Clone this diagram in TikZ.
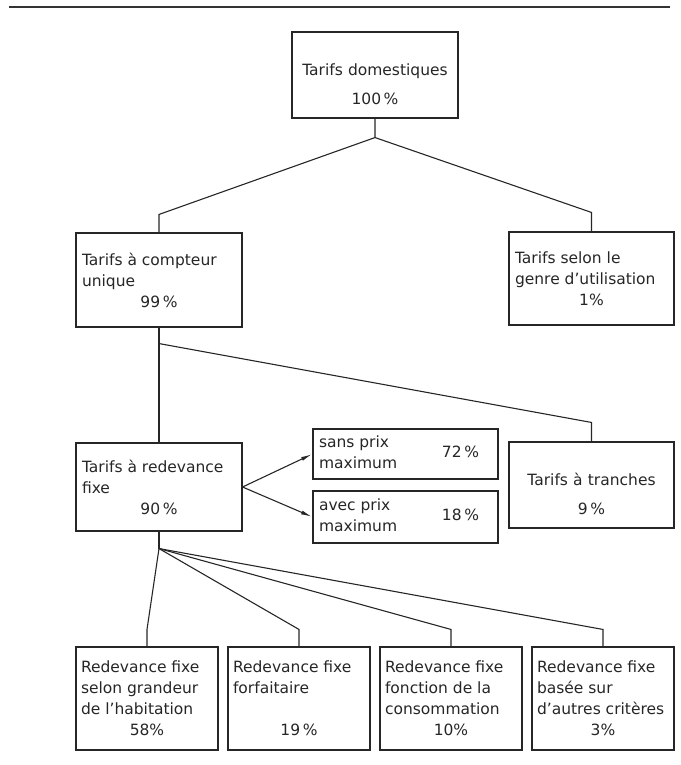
\documentclass[tikz,border=0pt]{standalone}
\usepackage{fontspec}
\setmainfont{DejaVu Sans}
\usepackage{tikz}
\usetikzlibrary{arrows.meta}

\newcommand{\pcline}[1]{\makebox[\hsize]{#1}}
\newcommand{\lowtop}{\rule{0pt}{30pt}}

\begin{document}
\begin{tikzpicture}[
    x=1pt,y=-1pt,>={Latex[length=11pt,width=4pt]},
    every node/.style={text=black!85},
    card/.style={draw=black!85,line width=1.1pt,inner xsep=6pt,inner ysep=3pt,
      align=flush left,font=\fontsize{15.5}{21}\selectfont},
    tie/.style={draw=black!85,line width=1.1pt},
    push/.style={->,draw=black!85,line width=1.1pt,shorten >=0.5pt}
]
\useasboundingbox (0,0) rectangle (680,765);
\draw[black!80,line width=2pt] (9,7) -- (670,7);

\node[card,align=center,text width=154pt,minimum height=86pt] (total)
  at (375,75) {\lowtop Tarifs~domestiques\\[8pt]100\,\%};
\node[card,text width=154pt,minimum height=94pt] (single)
  at (159,280) {Tarifs~à~compteur\\unique\\\pcline{99\,\%}};
\node[card,text width=153pt,minimum height=93pt] (usage)
  at (591.5,278.5) {Tarifs~selon~le\\genre~d’utilisation\\\pcline{1\%}};
\node[card,text width=154pt,minimum height=88pt] (fixed)
  at (159,487) {Tarifs~à~redevance\\fixe\\\pcline{90\,\%}};
\node[card,text width=173pt,minimum height=50pt] (nomax)
  at (405.5,454) {\begin{tabular}{@{}l@{}}sans~prix\\maximum\end{tabular}\hfill 72\,\%\kern13pt};
\node[card,text width=173pt,minimum height=52pt] (withmax)
  at (405.5,517) {\begin{tabular}{@{}l@{}}avec~prix\\maximum\end{tabular}\hfill 18\,\%\kern13pt};
\node[card,align=center,text width=153pt,minimum height=86pt] (blocks)
  at (591.5,485) {\lowtop Tarifs~à~tranches\\[8pt]9\,\%};

\foreach \boxid/\x/\txt in {
    size/147/{Redevance~fixe\\selon~grandeur\\de~l’habitation\\\pcline{58\%}},
    flat/299/{Redevance~fixe\\forfaitaire\\\mbox{}\\\pcline{19\,\%}},
    consum/451/{Redevance~fixe\\fonction~de~la\\consommation\\\pcline{10\%}},
    other/603/{Redevance~fixe\\basée~sur\\d’autres~critères\\\pcline{3\%}}} {
  \node[card,inner xsep=5pt,text width=132pt,minimum height=103pt] (\boxid)
    at (\x,698.5) {\txt};
}

\coordinate (split1) at ([yshift=-19pt]total.south);
\coordinate (split2) at ([yshift=-16pt]single.south);
\coordinate (split3) at ([yshift=-17pt]fixed.south);

\draw[tie] (total.south) -- (split1) -- ([yshift=18pt]single.north) -- (single.north);
\draw[tie] (split1) -- ([yshift=19pt]usage.north) -- (usage.north);
\draw[tie] (single.south) -- (fixed.north);
\draw[tie] (split2) -- ([yshift=19pt]blocks.north) -- (blocks.north);
\draw[push] (fixed.east) -- (nomax.west);
\draw[push] (fixed.east) -- (withmax.west);
\draw[tie] (fixed.south) -- (split3);
\foreach \boxid in {size,flat,consum,other}
  \draw[tie] (split3) -- ([yshift=17pt]\boxid.north) -- (\boxid.north);
\end{tikzpicture}
\end{document}
